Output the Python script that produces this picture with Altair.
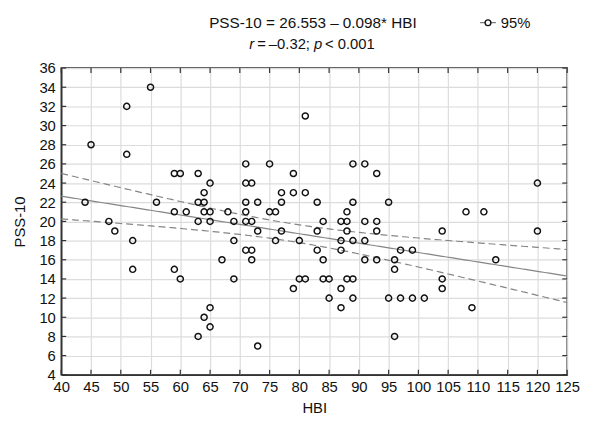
import altair as alt
import numpy as np
import pandas as pd

# ---- data ----
hbi = [44, 45, 48, 49, 51, 51, 52, 52, 55, 56, 59, 60, 59, 61, 59, 60, 63, 63, 63, 63,
       64, 64, 64, 64, 65, 65, 65, 65, 65, 67, 68, 69, 69, 69,
       71, 75, 79, 81, 71, 72, 77, 79, 81, 71, 73, 77, 83, 89, 71, 75, 76, 88, 71, 72,
       84, 87, 88, 73, 77, 83, 88, 76, 80, 87, 89, 71, 72, 83, 87, 72, 84, 80, 81, 84,
       85, 88, 89, 79, 87, 85, 89, 87, 73,
       89, 91, 93, 91, 93, 93, 91, 91, 93, 95, 96, 96, 97, 99, 104, 108, 111, 120, 120,
       113, 104, 104, 95, 97, 99, 101, 109, 96]
pss = [22, 28, 20, 19, 32, 27, 18, 15, 34, 22, 25, 25, 21, 21, 15, 14, 25, 22, 20, 8,
       23, 22, 21, 10, 24, 21, 20, 11, 9, 16, 21, 20, 18, 14,
       26, 26, 25, 31, 24, 24, 23, 23, 23, 22, 22, 22, 22, 22, 21, 21, 21, 21, 20, 20,
       20, 20, 20, 19, 19, 19, 19, 18, 18, 18, 18, 17, 17, 17, 17, 16, 16, 14, 14, 14,
       14, 14, 14, 13, 13, 12, 12, 11, 7,
       26, 26, 25, 20, 20, 19, 18, 16, 16, 22, 16, 15, 17, 17, 19, 21, 21, 24, 19,
       16, 14, 13, 12, 12, 12, 12, 11, 8]

INTERCEPT = 26.553
SLOPE = -0.098
title_line1 = "PSS-10 = 26.553 \u2013 0.098* HBI"
x_ticks = list(range(40, 126, 5))
y_ticks = list(range(4, 37, 2))

FONT = "Liberation Sans, Arial, sans-serif"
FS = 15
W, H = 513, 311

pts = pd.DataFrame({"HBI": hbi, "PSS": pss})

# regression line and 95% confidence band (computed from the points)
x = np.array(hbi, float)
y = np.array(pss, float)
n = len(x)
resid = y - (INTERCEPT + SLOPE * x)
s = np.sqrt((resid ** 2).sum() / (n - 2))
sxx = ((x - x.mean()) ** 2).sum()
xg = np.linspace(40, 125, 171)
fit = INTERCEPT + SLOPE * xg
se = s * np.sqrt(1.0 / n + (xg - x.mean()) ** 2 / sxx)
t = 1.98
band = pd.DataFrame({"HBI": xg, "fit": fit, "lo": fit - t * se, "hi": fit + t * se})

xs = alt.Scale(domain=[40, 125], nice=False, zero=False)
ys = alt.Scale(domain=[4, 36], nice=False, zero=False)
xax = alt.Axis(values=x_ticks, title="HBI", format="d", labelOverlap=False,
               labelFlush=False, grid=True)
yax = alt.Axis(values=y_ticks, title="PSS-10", format="d", labelOverlap=False,
               labelFlush=False, grid=True)


def X(f):
    return alt.X(f, scale=xs, axis=xax)


def Y(f):
    return alt.Y(f, scale=ys, axis=yax)


base = alt.Chart(band)
fit_line = base.mark_line(color="#858585", strokeWidth=1.2).encode(x=X("HBI:Q"), y=Y("fit:Q"))
lo_line = base.mark_line(color="#858585", strokeWidth=1.2, strokeDash=[7, 4]).encode(
    x=X("HBI:Q"), y=Y("lo:Q"))
hi_line = base.mark_line(color="#858585", strokeWidth=1.2, strokeDash=[7, 4]).encode(
    x=X("HBI:Q"), y=Y("hi:Q"))

points = alt.Chart(pts).mark_point(shape="circle", filled=False, color="#111",
                                   size=38, strokeWidth=1.5, opacity=1).encode(
    x=X("HBI:Q"), y=Y("PSS:Q"))

# inward tick marks on all four sides
xt = pd.DataFrame({"v": x_ticks})
yt = pd.DataFrame({"v": y_ticks})
tk = dict(color="#333", strokeWidth=1.2)
xt_bot = alt.Chart(xt).mark_rule(**tk).encode(
    x=X("v:Q"), y=alt.value(H), y2=alt.value(H - 5))
xt_top = alt.Chart(xt).mark_rule(**tk).encode(
    x=X("v:Q"), y=alt.value(0), y2=alt.value(5))
yt_left = alt.Chart(yt).mark_rule(**tk).encode(
    y=Y("v:Q"), x=alt.value(0), x2=alt.value(5))
yt_right = alt.Chart(yt).mark_rule(**tk).encode(
    y=Y("v:Q"), x=alt.value(W), x2=alt.value(W - 5))

# header text
tdf = pd.DataFrame({"a": [0]})
txt = dict(font=FONT, fontSize=FS, color="#111", baseline="middle")


def label(text, xpos, ypos, align="left", italic=False, size=FS):
    kw = dict(txt)
    kw["fontSize"] = size
    if italic:
        kw["fontStyle"] = "italic"
    return alt.Chart(tdf).mark_text(align=align, text=text, **kw).encode(
        x=alt.value(xpos), y=alt.value(ypos))


L2 = -24
heads = [
    label(title_line1, 255.2, -46, align="center", size=15.5),
    label("r", 190.7, L2, italic=True),
    label("=", 198.7, L2),
    label("\u20130.32;", 210.5, L2),
    label("p", 256.2, L2, italic=True),
    label("<", 267.5, L2),
    label("0.001", 280.3, L2),
    label("95%", 445.7, -46),
]

# legend symbol
leg_rule = alt.Chart(tdf).mark_rule(color="#555", strokeWidth=1).encode(
    x=alt.value(424.7), x2=alt.value(440.7), y=alt.value(-46))
leg_pt = alt.Chart(tdf).mark_point(shape="circle", filled=True, fill="white", stroke="#111",
                                   size=34, strokeWidth=1.4, opacity=1).encode(
    x=alt.value(432.7), y=alt.value(-46))

chart = alt.layer(
    fit_line, lo_line, hi_line, points,
    xt_bot, xt_top, yt_left, yt_right,
    *heads, leg_rule, leg_pt,
).properties(
    width=W, height=H,
    autosize=alt.AutoSizeParams(type="none"),
    padding={"left": 54, "top": 58, "right": 14, "bottom": 46},
    background="white",
).configure_view(
    stroke="#333", strokeWidth=1.5
).configure_axis(
    gridColor="#dcdcdc", gridWidth=1.2,
    domainColor="#333", domainWidth=1.5,
    tickSize=0, labelFont=FONT, labelFontSize=FS, labelColor="#111",
    titleFont=FONT, titleFontSize=FS, titleFontWeight="normal", titleColor="#111",
).configure_axisX(labelPadding=5, titlePadding=6
).configure_axisY(labelPadding=6, titlePadding=12)

chart.save("out.html", embed_options={"renderer": "svg", "actions": False})
